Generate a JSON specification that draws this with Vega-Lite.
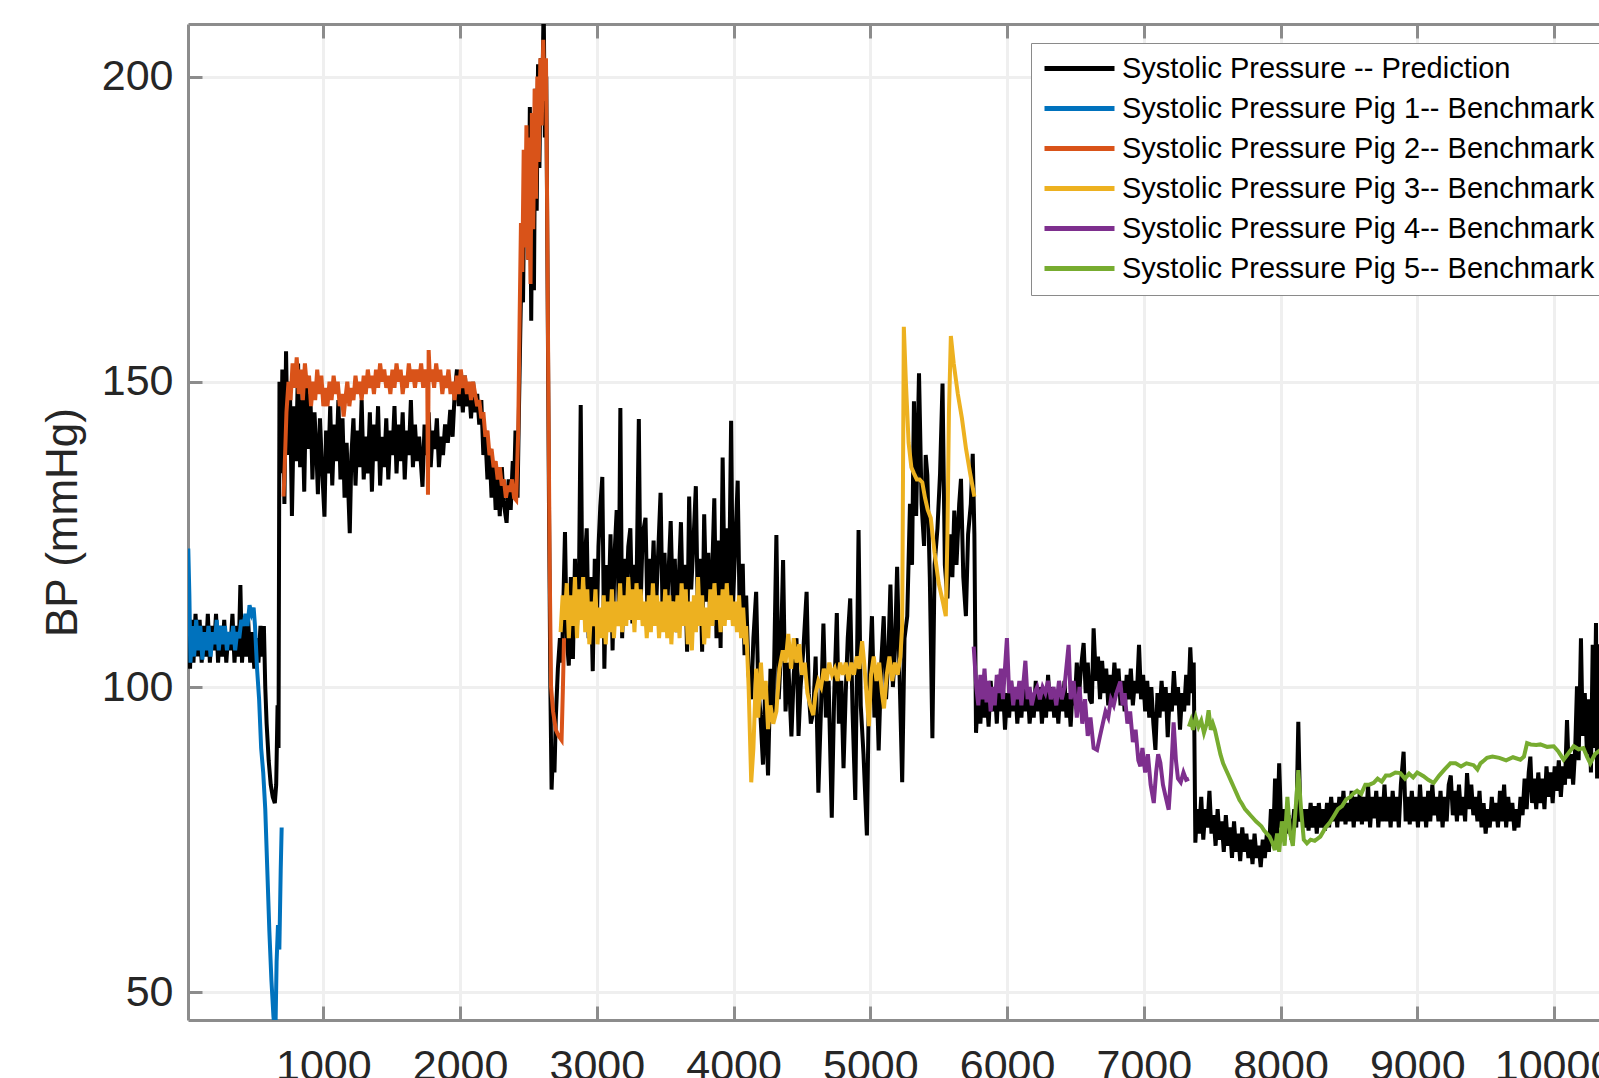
{
"$schema": "https://vega.github.io/schema/vega-lite/v6.json",
"width": 1411, "height": 996,
"autosize": {"type": "none"},
"padding": {"left": 188, "top": 24, "right": 0, "bottom": 58},
"background": "white",
"config": {
  "view": {"stroke": null},
  "font": "Liberation Sans",
  "axis": {"labelFont": "Liberation Sans", "titleFont": "Liberation Sans", "labelColor": "#262626", "titleColor": "#262626", "domainColor": "#8c8c8c", "domainWidth": 3, "tickColor": "#8c8c8c", "tickWidth": 3, "gridColor": "#efefef", "gridWidth": 3, "labelOverlap": false, "labelFlush": false},
  "legend": {"orient": "none", "legendX": 843, "legendY": 19, "title": null, "symbolType": "stroke", "symbolStrokeWidth": 5, "symbolSize": 4900, "labelFont": "Liberation Sans", "labelFontSize": 29, "labelColor": "#000000", "labelOffset": 5, "padding": 11, "rowPadding": 10, "clipHeight": 29, "strokeColor": "#8a8a8a", "fillColor": "#ffffff", "labelLimit": 1000}
},
"resolve": {"axis": {"x": "independent"}},
"datasets": {
"pred": [
{"x":10,"y":104},{"x":15,"y":112},{"x":25,"y":103},{"x":35,"y":111},{"x":50,"y":104},{"x":65,"y":112},{"x":80,"y":105},{"x":95,"y":111},{"x":110,"y":104},{"x":125,"y":110},{"x":140,"y":105},{"x":155,"y":112},{"x":170,"y":104},{"x":185,"y":110},{"x":200,"y":106},{"x":215,"y":112},{"x":230,"y":104},{"x":245,"y":110},{"x":260,"y":105},{"x":275,"y":111},{"x":290,"y":104},{"x":305,"y":109},{"x":320,"y":106},{"x":335,"y":112},{"x":350,"y":104},{"x":365,"y":110},{"x":380,"y":105},{"x":393,"y":116.7},{"x":405,"y":104},{"x":420,"y":110},{"x":435,"y":105},{"x":450,"y":111},{"x":465,"y":104},{"x":480,"y":109},{"x":495,"y":103},{"x":510,"y":108},{"x":525,"y":104},{"x":540,"y":110},{"x":555,"y":105},{"x":565,"y":110},{"x":575,"y":100},{"x":585,"y":94},{"x":600,"y":88},{"x":615,"y":84},{"x":630,"y":82},{"x":645,"y":81},{"x":655,"y":84},{"x":665,"y":97},{"x":672,"y":90},{"x":679,"y":150},{"x":690,"y":135},
{"x":700,"y":152},{"x":715,"y":130},{"x":727,"y":155},{"x":740,"y":138},{"x":755,"y":150},{"x":770,"y":128},{"x":785,"y":146},{"x":800,"y":137},{"x":815,"y":153},{"x":830,"y":136},{"x":845,"y":147},{"x":860,"y":132},{"x":875,"y":151},{"x":890,"y":139},{"x":905,"y":148},{"x":920,"y":134},{"x":935,"y":145},{"x":950,"y":138},{"x":960,"y":131.6},{"x":975,"y":144},{"x":990,"y":136},{"x":1008,"y":127.9},{"x":1020,"y":142},{"x":1035,"y":135},{"x":1050,"y":146},{"x":1065,"y":133},{"x":1080,"y":143},{"x":1095,"y":137},{"x":1110,"y":147},{"x":1125,"y":134},{"x":1140,"y":144},{"x":1155,"y":131},{"x":1170,"y":140},{"x":1193,"y":125.2},{"x":1205,"y":138},{"x":1220,"y":144},{"x":1235,"y":133},{"x":1250,"y":142},{"x":1265,"y":136},{"x":1280,"y":147},{"x":1295,"y":134},{"x":1310,"y":141},{"x":1325,"y":135},{"x":1340,"y":145},{"x":1355,"y":132},{"x":1370,"y":143},{"x":1385,"y":137},{"x":1400,"y":146},{"x":1415,"y":133},{"x":1430,"y":141},{"x":1445,"y":136},{"x":1460,"y":144},{"x":1475,"y":134},{"x":1490,"y":142},{"x":1505,"y":138},{"x":1520,"y":146},{"x":1535,"y":135},{"x":1550,"y":143},{"x":1565,"y":137},{"x":1580,"y":145},{"x":1595,"y":134},{"x":1610,"y":142},{"x":1625,"y":138},{"x":1640,"y":147},{"x":1655,"y":136},{"x":1670,"y":143},{"x":1685,"y":137},{"x":1700,"y":141},{"x":1725,"y":132.8},{"x":1740,"y":143},{"x":1755,"y":138},{"x":1770,"y":145},{"x":1785,"y":136},{"x":1800,"y":142},{"x":1815,"y":139},{"x":1830,"y":144},{"x":1845,"y":136},{"x":1860,"y":141},{"x":1875,"y":138},{"x":1890,"y":143},{"x":1910,"y":140},{"x":1928,"y":145.4},{"x":1945,"y":141},{"x":1960,"y":148},{"x":1977,"y":152},{"x":1990,"y":146},{"x":2005,"y":150},{"x":2020,"y":145},{"x":2035,"y":151},{"x":2050,"y":146},{"x":2065,"y":149},{"x":2080,"y":144},{"x":2095,"y":150},{"x":2110,"y":145},{"x":2125,"y":148},{"x":2140,"y":143},{"x":2155,"y":147},{"x":2170,"y":138},{"x":2185,"y":141},{"x":2200,"y":134},{"x":2215,"y":139},{"x":2230,"y":131},{"x":2245,"y":137},{"x":2260,"y":129},{"x":2275,"y":135},{"x":2290,"y":128},{"x":2305,"y":136},{"x":2320,"y":130},{"x":2340,"y":126.9},{"x":2355,"y":134},{"x":2370,"y":129},{"x":2385,"y":137},{"x":2395,"y":133},{"x":2405,"y":142},{"x":2420,"y":131},
{"x":2430,"y":145},{"x":2440,"y":158},{"x":2450,"y":170},{"x":2460,"y":163},{"x":2470,"y":183},{"x":2480,"y":175},{"x":2490,"y":190},{"x":2500,"y":170},{"x":2510,"y":195},{"x":2520,"y":160},{"x":2530,"y":190},{"x":2540,"y":165},{"x":2550,"y":198},{"x":2560,"y":178},{"x":2570,"y":202},{"x":2580,"y":185},{"x":2590,"y":203},{"x":2600,"y":195},{"x":2611,"y":212},{"x":2620,"y":190},{"x":2630,"y":200},{"x":2640,"y":165},{"x":2650,"y":130},{"x":2660,"y":100},{"x":2669,"y":83.2},{"x":2680,"y":90},{"x":2690,"y":86},{"x":2700,"y":95},{"x":2715,"y":103},{"x":2730,"y":108},{"x":2745,"y":104},{"x":2767,"y":125.4},
{"x":2780,"y":108},{"x":2795,"y":103.5},{"x":2810,"y":118},{"x":2825,"y":104.6},{"x":2840,"y":121},{"x":2855,"y":110},{"x":2870,"y":119},{"x":2882,"y":146.2},{"x":2895,"y":112},{"x":2910,"y":120},{"x":2926,"y":126},{"x":2940,"y":108},{"x":2955,"y":118},{"x":2970,"y":102.6},{"x":2985,"y":121},{"x":3000,"y":110},{"x":3012,"y":123},{"x":3025,"y":129.5},{"x":3040,"y":134.4},{"x":3055,"y":103},{"x":3070,"y":120},{"x":3085,"y":112},{"x":3100,"y":125},{"x":3115,"y":106},{"x":3130,"y":122},{"x":3145,"y":129},{"x":3160,"y":113},{"x":3172,"y":145.7},{"x":3185,"y":108},{"x":3200,"y":121},{"x":3215,"y":114},{"x":3230,"y":123},{"x":3245,"y":126},{"x":3260,"y":110.4},{"x":3275,"y":120},{"x":3290,"y":116},{"x":3307,"y":143.9},{"x":3320,"y":113},{"x":3335,"y":125},{"x":3356,"y":127.7},{"x":3370,"y":112},{"x":3385,"y":121},{"x":3400,"y":115},{"x":3415,"y":124},{"x":3430,"y":111},{"x":3445,"y":120},{"x":3466,"y":131.8},{"x":3480,"y":113},{"x":3495,"y":122},{"x":3510,"y":110},{"x":3525,"y":119},{"x":3540,"y":127.2},{"x":3555,"y":114},{"x":3570,"y":121},{"x":3585,"y":109},{"x":3600,"y":118},{"x":3615,"y":127},{"x":3630,"y":112},{"x":3645,"y":120},{"x":3660,"y":105.8},{"x":3675,"y":131.2},{"x":3690,"y":116},{"x":3705,"y":123},{"x":3724,"y":132.9},{"x":3740,"y":110},{"x":3755,"y":121},{"x":3770,"y":105.8},{"x":3785,"y":128.3},{"x":3800,"y":114},{"x":3815,"y":122},{"x":3830,"y":110},{"x":3845,"y":120},{"x":3859,"y":130.9},{"x":3875,"y":108},{"x":3890,"y":124},{"x":3905,"y":106.4},{"x":3920,"y":137.6},{"x":3935,"y":115},{"x":3950,"y":126},{"x":3965,"y":112},{"x":3982,"y":143.6},{"x":3995,"y":113},{"x":4010,"y":122},{"x":4030,"y":133.8},{"x":4045,"y":111},{"x":4067,"y":120.2},{"x":4080,"y":105.2},{"x":4092,"y":115},
{"x":4110,"y":102},{"x":4129,"y":98},{"x":4145,"y":108},{"x":4165,"y":115.6},{"x":4180,"y":100},{"x":4195,"y":96},{"x":4215,"y":87.3},{"x":4230,"y":99},{"x":4252,"y":85.5},{"x":4270,"y":103},{"x":4290,"y":95},{"x":4313,"y":124.9},{"x":4330,"y":98},{"x":4345,"y":105},{"x":4362,"y":120.8},{"x":4380,"y":96},{"x":4400,"y":104},{"x":4423,"y":91.9},{"x":4440,"y":102},{"x":4460,"y":108},{"x":4475,"y":92},{"x":4490,"y":100},{"x":4510,"y":106},{"x":4534,"y":115.6},{"x":4550,"y":99},{"x":4565,"y":94},{"x":4583,"y":96},{"x":4600,"y":105},{"x":4620,"y":82.7},{"x":4640,"y":97},{"x":4657,"y":110.4},{"x":4675,"y":95},{"x":4695,"y":101},{"x":4718,"y":78.6},{"x":4735,"y":98},{"x":4755,"y":112.1},{"x":4770,"y":94},{"x":4788,"y":101},{"x":4804,"y":86.7},{"x":4820,"y":99},{"x":4835,"y":108},{"x":4853,"y":114.5},{"x":4870,"y":96},{"x":4890,"y":81.5},{"x":4902,"y":103},{"x":4914,"y":125.7},{"x":4930,"y":97},{"x":4950,"y":89},{"x":4975,"y":75.7},{"x":4990,"y":100},{"x":5012,"y":111.6},{"x":5030,"y":95},{"x":5045,"y":102},{"x":5061,"y":89.6},{"x":5080,"y":104},{"x":5098,"y":111.6},{"x":5115,"y":98},{"x":5130,"y":104},{"x":5147,"y":116.8},{"x":5165,"y":100},{"x":5180,"y":106},{"x":5196,"y":119.7},{"x":5215,"y":101},{"x":5233,"y":84.4},{"x":5250,"y":108},{"x":5270,"y":111.6},{"x":5290,"y":130},{"x":5305,"y":120},{"x":5319,"y":146.8},{"x":5335,"y":128},{"x":5356,"y":151.4},{"x":5375,"y":130},{"x":5393,"y":123.1},{"x":5405,"y":138},{"x":5417,"y":134.7},{"x":5435,"y":118},{"x":5454,"y":91.6},{"x":5470,"y":120},{"x":5491,"y":126},{"x":5510,"y":135},{"x":5528,"y":149.7},{"x":5545,"y":120},{"x":5564,"y":114.5},{"x":5580,"y":125},{"x":5600,"y":118},{"x":5614,"y":128.9},{"x":5630,"y":120},{"x":5650,"y":130},{"x":5663,"y":134.1},{"x":5680,"y":118},{"x":5699,"y":111.6},{"x":5715,"y":125},{"x":5735,"y":130},{"x":5749,"y":138.2},{"x":5761,"y":125},{"x":5773,"y":92.5},
{"x":5790,"y":100},{"x":5805,"y":94},{"x":5820,"y":101},{"x":5835,"y":95},{"x":5850,"y":99},{"x":5865,"y":93.5},{"x":5880,"y":101},{"x":5895,"y":96},{"x":5910,"y":100},{"x":5925,"y":94},{"x":5940,"y":102},{"x":5955,"y":96},{"x":5970,"y":100},{"x":5985,"y":93},{"x":6000,"y":99},{"x":6015,"y":95},{"x":6030,"y":101},{"x":6045,"y":96},{"x":6060,"y":100},{"x":6075,"y":94},{"x":6090,"y":99},{"x":6105,"y":95},{"x":6120,"y":101},{"x":6135,"y":96},{"x":6150,"y":100},{"x":6165,"y":94},{"x":6180,"y":98},{"x":6195,"y":95},{"x":6210,"y":101},{"x":6225,"y":96},{"x":6240,"y":100},{"x":6255,"y":94},{"x":6270,"y":99},{"x":6285,"y":95},{"x":6300,"y":102},{"x":6315,"y":96},{"x":6330,"y":100},{"x":6345,"y":95},{"x":6360,"y":99},{"x":6375,"y":94},{"x":6390,"y":100},{"x":6405,"y":96},{"x":6420,"y":101},{"x":6435,"y":95},{"x":6450,"y":99},{"x":6465,"y":93.5},{"x":6480,"y":100},{"x":6495,"y":97},{"x":6510,"y":104},{"x":6525,"y":98},{"x":6540,"y":103},{"x":6560,"y":107.2},{"x":6575,"y":99},{"x":6590,"y":104},{"x":6605,"y":98},{"x":6620,"y":97.3},{"x":6633,"y":109.6},{"x":6650,"y":101},{"x":6665,"y":105},{"x":6680,"y":98},{"x":6695,"y":104.3},{"x":6710,"y":99},{"x":6725,"y":103},{"x":6740,"y":97},{"x":6755,"y":102},{"x":6770,"y":98},{"x":6785,"y":104},{"x":6800,"y":99},{"x":6815,"y":103},{"x":6830,"y":97},{"x":6845,"y":101},{"x":6860,"y":96},{"x":6875,"y":102},{"x":6890,"y":98},{"x":6905,"y":103},{"x":6920,"y":97},{"x":6935,"y":101},{"x":6950,"y":99},{"x":6965,"y":106.9},{"x":6980,"y":98},{"x":6995,"y":102},{"x":7010,"y":96},{"x":7025,"y":101},{"x":7040,"y":95},{"x":7055,"y":100},{"x":7070,"y":94},{"x":7085,"y":89.7},{"x":7100,"y":99},{"x":7115,"y":95},{"x":7130,"y":101},{"x":7145,"y":96},{"x":7160,"y":100},{"x":7175,"y":91.8},{"x":7190,"y":99},{"x":7205,"y":96},{"x":7220,"y":102.6},{"x":7235,"y":97},{"x":7250,"y":100},{"x":7265,"y":93},{"x":7280,"y":99},{"x":7295,"y":96},{"x":7310,"y":102},{"x":7325,"y":97},{"x":7340,"y":106.5},{"x":7355,"y":99},{"x":7365,"y":104},{"x":7377,"y":74.5},
{"x":7390,"y":80},{"x":7405,"y":76},{"x":7420,"y":82},{"x":7435,"y":75},{"x":7450,"y":80},{"x":7465,"y":77},{"x":7480,"y":83},{"x":7495,"y":76},{"x":7510,"y":79},{"x":7525,"y":74},{"x":7540,"y":80},{"x":7555,"y":75},{"x":7570,"y":78},{"x":7585,"y":73},{"x":7600,"y":79},{"x":7615,"y":74},{"x":7630,"y":77},{"x":7645,"y":72},{"x":7660,"y":78},{"x":7675,"y":73},{"x":7690,"y":76},{"x":7705,"y":71.5},{"x":7720,"y":77},{"x":7735,"y":73},{"x":7750,"y":76},{"x":7765,"y":72},{"x":7780,"y":75},{"x":7795,"y":71},{"x":7810,"y":76},{"x":7825,"y":72},{"x":7840,"y":74},{"x":7855,"y":70.5},{"x":7870,"y":75},{"x":7885,"y":72},{"x":7900,"y":76},{"x":7915,"y":73},{"x":7930,"y":80},{"x":7945,"y":74},{"x":7960,"y":85},{"x":7975,"y":75},{"x":7990,"y":87.5},{"x":8005,"y":77},{"x":8020,"y":80},{"x":8040,"y":76},{"x":8060,"y":79},{"x":8080,"y":75},{"x":8100,"y":80},{"x":8115,"y":77},{"x":8130,"y":94.3},{"x":8145,"y":78},{"x":8160,"y":80},{"x":8175,"y":77},{"x":8190,"y":80},
{"x":8205,"y":76.5},{"x":8220,"y":81},{"x":8235,"y":77},{"x":8250,"y":80.5},{"x":8265,"y":76},{"x":8280,"y":81},{"x":8295,"y":77},{"x":8310,"y":80},{"x":8325,"y":76.5},{"x":8340,"y":81},{"x":8355,"y":77},{"x":8370,"y":82},{"x":8385,"y":78},{"x":8400,"y":81},{"x":8415,"y":77},{"x":8430,"y":82},{"x":8445,"y":78},{"x":8460,"y":83},{"x":8475,"y":77.5},{"x":8490,"y":81},{"x":8505,"y":78},{"x":8520,"y":83},{"x":8535,"y":77},{"x":8550,"y":82},{"x":8565,"y":78},{"x":8580,"y":83},{"x":8595,"y":77.5},{"x":8610,"y":82},{"x":8625,"y":78},{"x":8640,"y":84},{"x":8655,"y":77},{"x":8670,"y":82},{"x":8685,"y":78.5},{"x":8700,"y":83},{"x":8715,"y":77},{"x":8730,"y":82},{"x":8745,"y":78},{"x":8760,"y":84},{"x":8775,"y":78},{"x":8790,"y":82},{"x":8805,"y":77},{"x":8820,"y":83},{"x":8835,"y":78},{"x":8850,"y":82},{"x":8865,"y":77},{"x":8880,"y":84},{"x":8900,"y":89.4},{"x":8915,"y":78},{"x":8930,"y":82},{"x":8945,"y":77.5},{"x":8960,"y":83},{"x":8975,"y":78},{"x":8990,"y":82},{"x":9005,"y":77},{"x":9020,"y":84},{"x":9035,"y":78},{"x":9050,"y":82},{"x":9065,"y":77},{"x":9080,"y":83},{"x":9095,"y":78},{"x":9110,"y":84},{"x":9125,"y":79},{"x":9140,"y":82},{"x":9155,"y":78},{"x":9170,"y":83},{"x":9185,"y":77},{"x":9200,"y":82},{"x":9215,"y":78},{"x":9230,"y":84},{"x":9245,"y":85.5},{"x":9260,"y":79},{"x":9275,"y":83},{"x":9290,"y":78},{"x":9305,"y":84},{"x":9320,"y":79},{"x":9335,"y":82},{"x":9350,"y":78},{"x":9364,"y":85.9},{"x":9380,"y":80},{"x":9395,"y":84},{"x":9410,"y":79},{"x":9425,"y":82},{"x":9440,"y":78},{"x":9455,"y":83},{"x":9470,"y":77},{"x":9485,"y":81},{"x":9500,"y":76},{"x":9515,"y":80},{"x":9530,"y":77},{"x":9545,"y":82},{"x":9560,"y":78},{"x":9575,"y":81},{"x":9590,"y":77},{"x":9605,"y":83},{"x":9620,"y":78},{"x":9635,"y":84},{"x":9650,"y":77},{"x":9665,"y":82},{"x":9680,"y":78},{"x":9695,"y":81},{"x":9710,"y":76.5},{"x":9725,"y":80},{"x":9740,"y":77},{"x":9755,"y":82},{"x":9770,"y":79},{"x":9785,"y":85},{"x":9800,"y":80},{"x":9815,"y":86},{"x":9827,"y":88.6},{"x":9840,"y":81},{"x":9855,"y":85},{"x":9870,"y":80},{"x":9885,"y":86},{"x":9900,"y":81},{"x":9915,"y":85},{"x":9930,"y":80},{"x":9945,"y":87},{"x":9960,"y":82},{"x":9975,"y":86},{"x":9990,"y":81},{"x":10005,"y":87},{"x":10020,"y":83},{"x":10035,"y":88},{"x":10050,"y":82},{"x":10065,"y":87},{"x":10080,"y":84},{"x":10095,"y":94.6},{"x":10110,"y":85},{"x":10125,"y":89},{"x":10140,"y":84},{"x":10155,"y":90},{"x":10168,"y":100.1},{"x":10180,"y":88},{"x":10197,"y":108},{"x":10210,"y":92},{"x":10225,"y":99},{"x":10241,"y":89},{"x":10255,"y":98},{"x":10270,"y":86},{"x":10283,"y":106.9},{"x":10295,"y":90},{"x":10307,"y":110.5},{"x":10315,"y":85},{"x":10325,"y":107},{"x":10340,"y":95}
],
"bench": [
{"s":"1","x":12,"y":122.7},{"s":"1","x":20,"y":115},{"s":"1","x":28,"y":104},{"s":"1","x":40,"y":110},{"s":"1","x":55,"y":105},{"s":"1","x":70,"y":111},{"s":"1","x":85,"y":106},{"s":"1","x":100,"y":110},{"s":"1","x":115,"y":104.5},{"s":"1","x":130,"y":109},{"s":"1","x":145,"y":106},{"s":"1","x":160,"y":110},{"s":"1","x":175,"y":105},{"s":"1","x":190,"y":109},{"s":"1","x":205,"y":107},{"s":"1","x":220,"y":111},{"s":"1","x":235,"y":106},{"s":"1","x":250,"y":110},{"s":"1","x":265,"y":107},{"s":"1","x":280,"y":110},{"s":"1","x":295,"y":106},{"s":"1","x":310,"y":109},{"s":"1","x":325,"y":107},{"s":"1","x":340,"y":110},{"s":"1","x":355,"y":106},{"s":"1","x":370,"y":109},{"s":"1","x":385,"y":108},{"s":"1","x":400,"y":111},{"s":"1","x":415,"y":110},{"s":"1","x":430,"y":112},{"s":"1","x":445,"y":110},{"s":"1","x":460,"y":113.4},{"s":"1","x":475,"y":112},{"s":"1","x":490,"y":113},{"s":"1","x":500,"y":110},{"s":"1","x":515,"y":103},{"s":"1","x":530,"y":98},{"s":"1","x":545,"y":90},{"s":"1","x":560,"y":86},{"s":"1","x":575,"y":80},{"s":"1","x":590,"y":70},{"s":"1","x":605,"y":60},{"s":"1","x":620,"y":52},{"s":"1","x":635,"y":46},{"s":"1","x":649,"y":43},{"s":"1","x":658,"y":55},{"s":"1","x":668,"y":61},{"s":"1","x":678,"y":57},{"s":"1","x":688,"y":70},{"s":"1","x":695,"y":77},
{"s":"2","x":709,"y":131.2},{"s":"2","x":720,"y":138},{"s":"2","x":730,"y":145},{"s":"2","x":745,"y":150},{"s":"2","x":760,"y":147},{"s":"2","x":775,"y":153},{"s":"2","x":790,"y":149},{"s":"2","x":805,"y":154},{"s":"2","x":820,"y":148},{"s":"2","x":835,"y":152},{"s":"2","x":850,"y":147},{"s":"2","x":865,"y":153},{"s":"2","x":880,"y":149},{"s":"2","x":895,"y":151},{"s":"2","x":910,"y":146},{"s":"2","x":925,"y":150},{"s":"2","x":940,"y":147},{"s":"2","x":955,"y":152},{"s":"2","x":970,"y":148},{"s":"2","x":985,"y":151},{"s":"2","x":1000,"y":146},{"s":"2","x":1015,"y":149},{"s":"2","x":1030,"y":146},{"s":"2","x":1045,"y":150},{"s":"2","x":1060,"y":147},{"s":"2","x":1075,"y":151},{"s":"2","x":1090,"y":148},{"s":"2","x":1105,"y":150},{"s":"2","x":1120,"y":146},{"s":"2","x":1135,"y":148},{"s":"2","x":1148,"y":144.3},{"s":"2","x":1160,"y":147},{"s":"2","x":1175,"y":150},{"s":"2","x":1190,"y":146},{"s":"2","x":1205,"y":149},{"s":"2","x":1220,"y":147},{"s":"2","x":1235,"y":151},{"s":"2","x":1250,"y":148},{"s":"2","x":1265,"y":150},{"s":"2","x":1280,"y":147},{"s":"2","x":1295,"y":151},{"s":"2","x":1310,"y":148},{"s":"2","x":1325,"y":152},{"s":"2","x":1340,"y":149},{"s":"2","x":1355,"y":151},{"s":"2","x":1370,"y":148},{"s":"2","x":1385,"y":152},{"s":"2","x":1400,"y":149},{"s":"2","x":1415,"y":153},{"s":"2","x":1430,"y":150},{"s":"2","x":1445,"y":152},{"s":"2","x":1460,"y":149},{"s":"2","x":1475,"y":151},{"s":"2","x":1490,"y":148},{"s":"2","x":1505,"y":152},{"s":"2","x":1520,"y":149},{"s":"2","x":1535,"y":153},{"s":"2","x":1550,"y":150},{"s":"2","x":1565,"y":152},{"s":"2","x":1580,"y":148},{"s":"2","x":1595,"y":151},{"s":"2","x":1610,"y":149},{"s":"2","x":1625,"y":153},{"s":"2","x":1640,"y":150},{"s":"2","x":1655,"y":152},{"s":"2","x":1670,"y":149},{"s":"2","x":1685,"y":152},{"s":"2","x":1700,"y":150},{"s":"2","x":1715,"y":153},{"s":"2","x":1730,"y":149},{"s":"2","x":1745,"y":152},{"s":"2","x":1760,"y":150},{"s":"2","x":1765,"y":131.5},{"s":"2","x":1770,"y":155.2},{"s":"2","x":1780,"y":150},{"s":"2","x":1795,"y":152},{"s":"2","x":1810,"y":149},{"s":"2","x":1825,"y":153},{"s":"2","x":1840,"y":150},{"s":"2","x":1855,"y":152},{"s":"2","x":1870,"y":148},{"s":"2","x":1885,"y":151},{"s":"2","x":1900,"y":149},{"s":"2","x":1915,"y":152},{"s":"2","x":1930,"y":148},{"s":"2","x":1945,"y":150},{"s":"2","x":1960,"y":147},{"s":"2","x":1975,"y":151},{"s":"2","x":1990,"y":148},{"s":"2","x":2005,"y":152},{"s":"2","x":2020,"y":149},{"s":"2","x":2035,"y":151},{"s":"2","x":2050,"y":148},{"s":"2","x":2065,"y":150},{"s":"2","x":2080,"y":147},{"s":"2","x":2095,"y":150},{"s":"2","x":2110,"y":148},{"s":"2","x":2125,"y":146},{"s":"2","x":2140,"y":147},{"s":"2","x":2155,"y":144},{"s":"2","x":2170,"y":145},{"s":"2","x":2185,"y":141},{"s":"2","x":2200,"y":142},{"s":"2","x":2215,"y":138},{"s":"2","x":2230,"y":139},{"s":"2","x":2245,"y":136},{"s":"2","x":2260,"y":137},{"s":"2","x":2275,"y":134},{"s":"2","x":2290,"y":136},{"s":"2","x":2305,"y":133},{"s":"2","x":2320,"y":134},{"s":"2","x":2335,"y":131},{"s":"2","x":2350,"y":133},{"s":"2","x":2365,"y":132},{"s":"2","x":2380,"y":134},{"s":"2","x":2395,"y":131},{"s":"2","x":2410,"y":130.6},{"s":"2","x":2425,"y":142},{"s":"2","x":2435,"y":160},{"s":"2","x":2445,"y":176},{"s":"2","x":2455,"y":168},{"s":"2","x":2465,"y":188},{"s":"2","x":2475,"y":172},{"s":"2","x":2485,"y":192},{"s":"2","x":2495,"y":170},{"s":"2","x":2505,"y":190},{"s":"2","x":2515,"y":166},{"s":"2","x":2525,"y":194},{"s":"2","x":2535,"y":175},{"s":"2","x":2545,"y":198},{"s":"2","x":2555,"y":180},{"s":"2","x":2565,"y":200},{"s":"2","x":2575,"y":186},{"s":"2","x":2587,"y":203},{"s":"2","x":2597,"y":192},{"s":"2","x":2608,"y":206},{"s":"2","x":2618,"y":196},{"s":"2","x":2628,"y":203},{"s":"2","x":2636,"y":180},{"s":"2","x":2645,"y":150},{"s":"2","x":2655,"y":120},{"s":"2","x":2665,"y":100},{"s":"2","x":2680,"y":96},{"s":"2","x":2700,"y":93},{"s":"2","x":2720,"y":92},{"s":"2","x":2742,"y":91.3},{"s":"2","x":2752,"y":100},{"s":"2","x":2760,"y":108},
{"s":"3","x":2735,"y":109},{"s":"3","x":2750,"y":115},{"s":"3","x":2765,"y":111},{"s":"3","x":2780,"y":117},{"s":"3","x":2795,"y":108},{"s":"3","x":2810,"y":115},{"s":"3","x":2825,"y":110},{"s":"3","x":2840,"y":118},{"s":"3","x":2855,"y":108},{"s":"3","x":2870,"y":116},{"s":"3","x":2885,"y":111},{"s":"3","x":2900,"y":118},{"s":"3","x":2915,"y":109},{"s":"3","x":2930,"y":116},{"s":"3","x":2945,"y":107},{"s":"3","x":2960,"y":114},{"s":"3","x":2975,"y":110},{"s":"3","x":2990,"y":116},{"s":"3","x":3005,"y":107},{"s":"3","x":3020,"y":113},{"s":"3","x":3035,"y":108},{"s":"3","x":3050,"y":115},{"s":"3","x":3065,"y":107},{"s":"3","x":3080,"y":114},{"s":"3","x":3095,"y":109},{"s":"3","x":3110,"y":116},{"s":"3","x":3125,"y":108},{"s":"3","x":3140,"y":114},{"s":"3","x":3155,"y":110},{"s":"3","x":3170,"y":117},{"s":"3","x":3185,"y":109},{"s":"3","x":3200,"y":115},{"s":"3","x":3215,"y":110},{"s":"3","x":3230,"y":118},{"s":"3","x":3245,"y":111},{"s":"3","x":3260,"y":116},{"s":"3","x":3275,"y":109},{"s":"3","x":3290,"y":117},{"s":"3","x":3305,"y":111},{"s":"3","x":3320,"y":116},{"s":"3","x":3335,"y":110},{"s":"3","x":3350,"y":114},{"s":"3","x":3365,"y":108},{"s":"3","x":3380,"y":115},{"s":"3","x":3395,"y":109},{"s":"3","x":3410,"y":117},{"s":"3","x":3425,"y":110},{"s":"3","x":3440,"y":115},{"s":"3","x":3455,"y":108},{"s":"3","x":3470,"y":114},{"s":"3","x":3485,"y":109},{"s":"3","x":3500,"y":116},{"s":"3","x":3515,"y":108},{"s":"3","x":3530,"y":115},{"s":"3","x":3545,"y":107},{"s":"3","x":3560,"y":114},{"s":"3","x":3575,"y":109},{"s":"3","x":3590,"y":115},{"s":"3","x":3605,"y":108},{"s":"3","x":3620,"y":117},{"s":"3","x":3635,"y":110},{"s":"3","x":3650,"y":116},{"s":"3","x":3665,"y":107},{"s":"3","x":3680,"y":114},{"s":"3","x":3695,"y":106},{"s":"3","x":3710,"y":115},{"s":"3","x":3725,"y":109},{"s":"3","x":3740,"y":118},{"s":"3","x":3755,"y":110},{"s":"3","x":3770,"y":115},{"s":"3","x":3785,"y":107},{"s":"3","x":3800,"y":113},{"s":"3","x":3815,"y":108},{"s":"3","x":3830,"y":116},{"s":"3","x":3845,"y":110},{"s":"3","x":3860,"y":117},{"s":"3","x":3875,"y":111},{"s":"3","x":3890,"y":115},{"s":"3","x":3905,"y":109},{"s":"3","x":3920,"y":116},{"s":"3","x":3935,"y":110},{"s":"3","x":3950,"y":117},{"s":"3","x":3965,"y":111},{"s":"3","x":3980,"y":115},{"s":"3","x":3995,"y":110},{"s":"3","x":4010,"y":114},{"s":"3","x":4025,"y":109},{"s":"3","x":4040,"y":115},{"s":"3","x":4055,"y":108},{"s":"3","x":4070,"y":113},{"s":"3","x":4085,"y":107},{"s":"3","x":4092,"y":110},{"s":"3","x":4110,"y":100},{"s":"3","x":4129,"y":84.4},{"s":"3","x":4145,"y":90},{"s":"3","x":4165,"y":103},{"s":"3","x":4180,"y":95},{"s":"3","x":4200,"y":104},{"s":"3","x":4215,"y":98},{"s":"3","x":4235,"y":101},{"s":"3","x":4252,"y":93.1},{"s":"3","x":4270,"y":97},{"s":"3","x":4290,"y":94},{"s":"3","x":4313,"y":96},{"s":"3","x":4335,"y":103},{"s":"3","x":4360,"y":106},{"s":"3","x":4380,"y":104},{"s":"3","x":4400,"y":108.7},{"s":"3","x":4420,"y":103},{"s":"3","x":4440,"y":108},{"s":"3","x":4460,"y":104},{"s":"3","x":4480,"y":107},{"s":"3","x":4500,"y":102},{"s":"3","x":4520,"y":104},{"s":"3","x":4540,"y":99},{"s":"3","x":4560,"y":97},{"s":"3","x":4583,"y":95.4},{"s":"3","x":4600,"y":99},{"s":"3","x":4620,"y":101},{"s":"3","x":4640,"y":100},{"s":"3","x":4660,"y":103},{"s":"3","x":4680,"y":101},{"s":"3","x":4700,"y":104},{"s":"3","x":4720,"y":102},{"s":"3","x":4740,"y":103},{"s":"3","x":4760,"y":101},{"s":"3","x":4780,"y":104},{"s":"3","x":4800,"y":102},{"s":"3","x":4820,"y":104},{"s":"3","x":4840,"y":101},{"s":"3","x":4860,"y":104},{"s":"3","x":4880,"y":102},{"s":"3","x":4900,"y":105},{"s":"3","x":4920,"y":103},{"s":"3","x":4940,"y":107.5},{"s":"3","x":4955,"y":104},{"s":"3","x":4975,"y":98},{"s":"3","x":4990,"y":93.6},{"s":"3","x":5005,"y":102},{"s":"3","x":5025,"y":105},{"s":"3","x":5045,"y":101},{"s":"3","x":5065,"y":104},{"s":"3","x":5085,"y":99},{"s":"3","x":5100,"y":96.5},{"s":"3","x":5120,"y":102},{"s":"3","x":5140,"y":105},{"s":"3","x":5160,"y":101},{"s":"3","x":5180,"y":104},{"s":"3","x":5200,"y":102},{"s":"3","x":5220,"y":105},{"s":"3","x":5233,"y":110},{"s":"3","x":5245,"y":159},{"s":"3","x":5260,"y":150},{"s":"3","x":5280,"y":140},{"s":"3","x":5300,"y":136},{"s":"3","x":5319,"y":135},{"s":"3","x":5340,"y":134},{"s":"3","x":5360,"y":134},{"s":"3","x":5380,"y":133.5},{"s":"3","x":5400,"y":131},{"s":"3","x":5420,"y":129},{"s":"3","x":5442,"y":127.7},{"s":"3","x":5470,"y":122},{"s":"3","x":5500,"y":117},{"s":"3","x":5530,"y":114},{"s":"3","x":5552,"y":111.6},{"s":"3","x":5564,"y":125},{"s":"3","x":5575,"y":145},{"s":"3","x":5589,"y":157.5},{"s":"3","x":5610,"y":153},{"s":"3","x":5640,"y":148},{"s":"3","x":5670,"y":144},{"s":"3","x":5700,"y":139},{"s":"3","x":5730,"y":135},{"s":"3","x":5761,"y":131.2},
{"s":"4","x":5756,"y":106.6},{"s":"4","x":5775,"y":100},{"s":"4","x":5790,"y":97},{"s":"4","x":5805,"y":102},{"s":"4","x":5820,"y":98},{"s":"4","x":5835,"y":103},{"s":"4","x":5850,"y":97.5},{"s":"4","x":5865,"y":101},{"s":"4","x":5880,"y":96},{"s":"4","x":5895,"y":100},{"s":"4","x":5910,"y":97},{"s":"4","x":5925,"y":102},{"s":"4","x":5940,"y":99},{"s":"4","x":5955,"y":103},{"s":"4","x":5970,"y":98},{"s":"4","x":5999,"y":108},{"s":"4","x":6015,"y":99},{"s":"4","x":6030,"y":101},{"s":"4","x":6045,"y":97},{"s":"4","x":6060,"y":100},{"s":"4","x":6075,"y":98},{"s":"4","x":6090,"y":101},{"s":"4","x":6105,"y":97},{"s":"4","x":6134,"y":104.3},{"s":"4","x":6150,"y":98},{"s":"4","x":6165,"y":100},{"s":"4","x":6180,"y":97},{"s":"4","x":6200,"y":99},{"s":"4","x":6220,"y":100},{"s":"4","x":6240,"y":98},{"s":"4","x":6260,"y":100},{"s":"4","x":6280,"y":99},{"s":"4","x":6300,"y":101},{"s":"4","x":6320,"y":98},{"s":"4","x":6340,"y":100},{"s":"4","x":6360,"y":97},{"s":"4","x":6380,"y":101},{"s":"4","x":6400,"y":98},{"s":"4","x":6420,"y":100},{"s":"4","x":6450,"y":106.9},{"s":"4","x":6465,"y":98},{"s":"4","x":6487,"y":101},{"s":"4","x":6510,"y":95},{"s":"4","x":6530,"y":100},{"s":"4","x":6550,"y":94},{"s":"4","x":6570,"y":98},{"s":"4","x":6590,"y":92},{"s":"4","x":6610,"y":95},{"s":"4","x":6633,"y":90},{"s":"4","x":6658,"y":89.7},{"s":"4","x":6680,"y":92},{"s":"4","x":6700,"y":94},{"s":"4","x":6720,"y":96},{"s":"4","x":6740,"y":95},{"s":"4","x":6760,"y":98},{"s":"4","x":6780,"y":97},{"s":"4","x":6800,"y":99},{"s":"4","x":6828,"y":100.9},{"s":"4","x":6845,"y":97},{"s":"4","x":6860,"y":99},{"s":"4","x":6880,"y":94},{"s":"4","x":6900,"y":96},{"s":"4","x":6920,"y":91},{"s":"4","x":6940,"y":93},{"s":"4","x":6960,"y":88},{"s":"4","x":6975,"y":87},{"s":"4","x":6990,"y":90},{"s":"4","x":7010,"y":86},{"s":"4","x":7030,"y":89},{"s":"4","x":7050,"y":84},{"s":"4","x":7073,"y":81},{"s":"4","x":7090,"y":86},{"s":"4","x":7105,"y":89},{"s":"4","x":7121,"y":87.6},{"s":"4","x":7140,"y":84},{"s":"4","x":7160,"y":82},{"s":"4","x":7182,"y":79.9},{"s":"4","x":7200,"y":86},{"s":"4","x":7218,"y":94.2},{"s":"4","x":7235,"y":88},{"s":"4","x":7250,"y":85},{"s":"4","x":7270,"y":84.4},{"s":"4","x":7290,"y":86},{"s":"4","x":7310,"y":84.8},{"s":"4","x":7330,"y":85},
{"s":"5","x":7330,"y":93.5},{"s":"5","x":7345,"y":94.5},{"s":"5","x":7360,"y":93},{"s":"5","x":7380,"y":95},{"s":"5","x":7400,"y":93.5},{"s":"5","x":7420,"y":94.5},{"s":"5","x":7440,"y":92.5},{"s":"5","x":7460,"y":94},{"s":"5","x":7474,"y":96.2},{"s":"5","x":7490,"y":93},{"s":"5","x":7505,"y":94},{"s":"5","x":7520,"y":93},{"s":"5","x":7540,"y":91},{"s":"5","x":7560,"y":89},{"s":"5","x":7580,"y":87.5},{"s":"5","x":7600,"y":86.5},{"s":"5","x":7620,"y":85.5},{"s":"5","x":7640,"y":84.5},{"s":"5","x":7660,"y":83.5},{"s":"5","x":7680,"y":82.5},{"s":"5","x":7700,"y":81.5},{"s":"5","x":7720,"y":80.8},{"s":"5","x":7740,"y":80},{"s":"5","x":7760,"y":79.5},{"s":"5","x":7780,"y":79},{"s":"5","x":7800,"y":78.5},{"s":"5","x":7820,"y":78},{"s":"5","x":7840,"y":77.6},{"s":"5","x":7860,"y":77.2},{"s":"5","x":7880,"y":76.5},{"s":"5","x":7900,"y":76},{"s":"5","x":7920,"y":75.5},{"s":"5","x":7940,"y":74.5},{"s":"5","x":7958,"y":73.3},{"s":"5","x":7975,"y":76},{"s":"5","x":7990,"y":73},{"s":"5","x":8010,"y":78},{"s":"5","x":8030,"y":74},{"s":"5","x":8050,"y":82},{"s":"5","x":8070,"y":76},{"s":"5","x":8090,"y":74},{"s":"5","x":8110,"y":80},{"s":"5","x":8130,"y":86.4},{"s":"5","x":8150,"y":80},{"s":"5","x":8170,"y":75},{"s":"5","x":8193,"y":74.4},{"s":"5","x":8220,"y":75},{"s":"5","x":8250,"y":74.8},{"s":"5","x":8291,"y":75.5},{"s":"5","x":8330,"y":77},{"s":"5","x":8360,"y":77.8},{"s":"5","x":8388,"y":78.8},{"s":"5","x":8420,"y":80},{"s":"5","x":8450,"y":80.5},{"s":"5","x":8480,"y":81.6},{"s":"5","x":8510,"y":82},{"s":"5","x":8535,"y":82.6},{"s":"5","x":8560,"y":83},{"s":"5","x":8590,"y":82.5},{"s":"5","x":8620,"y":84},{"s":"5","x":8650,"y":84},{"s":"5","x":8681,"y":84.3},{"s":"5","x":8710,"y":85},{"s":"5","x":8740,"y":84.5},{"s":"5","x":8770,"y":85.5},{"s":"5","x":8800,"y":85.5},{"s":"5","x":8840,"y":86},{"s":"5","x":8876,"y":85.9},{"s":"5","x":8910,"y":85},{"s":"5","x":8940,"y":85.8},{"s":"5","x":8970,"y":85.2},{"s":"5","x":9000,"y":86},{"s":"5","x":9046,"y":85.4},{"s":"5","x":9080,"y":84.8},{"s":"5","x":9120,"y":84.3},{"s":"5","x":9160,"y":85.5},{"s":"5","x":9200,"y":86.5},{"s":"5","x":9242,"y":87.5},{"s":"5","x":9280,"y":87.5},{"s":"5","x":9320,"y":87},{"s":"5","x":9360,"y":87.5},{"s":"5","x":9412,"y":87.2},{"s":"5","x":9440,"y":86.5},{"s":"5","x":9462,"y":87.5},{"s":"5","x":9490,"y":88},{"s":"5","x":9510,"y":88.4},{"s":"5","x":9550,"y":88.6},{"s":"5","x":9600,"y":88.4},{"s":"5","x":9650,"y":88},{"s":"5","x":9700,"y":88.5},{"s":"5","x":9754,"y":88.1},{"s":"5","x":9780,"y":88.6},{"s":"5","x":9803,"y":90.8},{"s":"5","x":9830,"y":90.6},{"s":"5","x":9870,"y":90.5},{"s":"5","x":9900,"y":90.6},{"s":"5","x":9950,"y":90.2},{"s":"5","x":9998,"y":90.3},{"s":"5","x":10030,"y":89.5},{"s":"5","x":10070,"y":88.1},{"s":"5","x":10100,"y":89},{"s":"5","x":10144,"y":90.3},{"s":"5","x":10180,"y":89.8},{"s":"5","x":10215,"y":90},{"s":"5","x":10241,"y":88.6},{"s":"5","x":10265,"y":87.5},{"s":"5","x":10300,"y":89},{"s":"5","x":10340,"y":89.7}
]
},
"layer": [
{
"data": {"name": "pred"},
"mark": {"type": "line", "strokeWidth": 4, "clip": true, "strokeJoin": "miter"},
"encoding": {
  "x": {"field": "x", "type": "quantitative", "scale": {"domain": [10, 10329], "nice": false, "zero": false},
        "axis": {"orient": "bottom", "title": null, "format": "d", "values": [1000,2000,3000,4000,5000,6000,7000,8000,9000,10000], "grid": true, "labelFontSize": 43, "tickSize": -14, "labelPadding": 39}},
  "y": {"field": "y", "type": "quantitative", "scale": {"domain": [45.46, 208.6], "nice": false, "zero": false},
        "axis": {"title": "BP (mmHg)", "titleFontSize": 44, "titleFontWeight": "normal", "format": "d", "values": [50,100,150,200], "grid": true, "labelFontSize": 43, "tickSize": -14, "labelPadding": 29, "titleX": -125, "titleY": 498, "titleAngle": -90, "titleBaseline": "middle", "titleAlign": "center"}},
  "color": {"datum": "P", "type": "nominal", "scale": {"domain": ["P","1","2","3","4","5"], "range": ["#000000","#0072BD","#D95319","#EDB120","#7E2F8E","#77AC30"]},
            "legend": {"labelExpr": "datum.label == 'P' ? 'Systolic Pressure -- Prediction' : 'Systolic Pressure Pig ' + datum.label + '-- Benchmark'"}}
}
},
{
"data": {"name": "bench"},
"mark": {"type": "line", "strokeWidth": 4, "clip": true, "strokeJoin": "miter"},
"encoding": {
  "x": {"field": "x", "type": "quantitative", "axis": {"orient": "top", "title": null, "labels": false, "grid": false, "values": [1000,2000,3000,4000,5000,6000,7000,8000,9000,10000], "tickSize": -14}},
  "y": {"field": "y", "type": "quantitative"},
  "color": {"field": "s", "type": "nominal"}
}
}
]
}
